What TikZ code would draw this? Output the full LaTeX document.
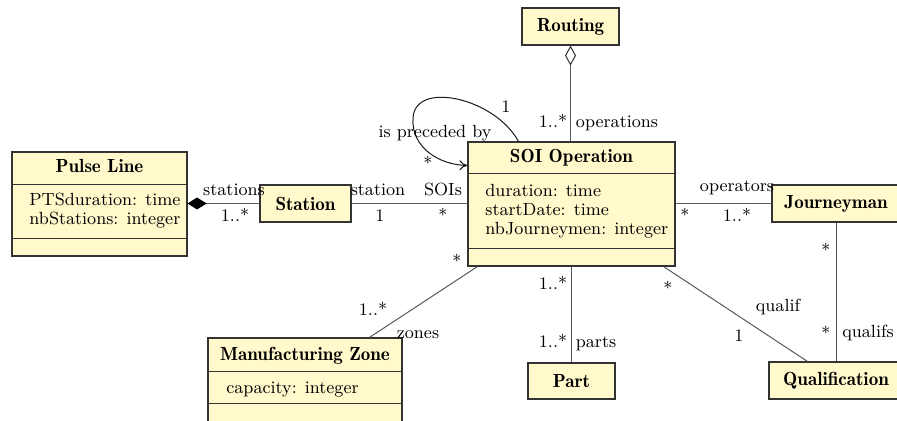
\documentclass[tikz,border=0pt]{standalone}
\usetikzlibrary{arrows.meta,calc}
\definecolor{classfill}{RGB}{255,249,204}
\newcommand{\hdrfont}{\fontsize{9.5}{11}\selectfont\fontseries{b}\selectfont}
\begin{document}
\begin{tikzpicture}[x=0.5pt,y=-0.5pt,
  every node/.style={font=\fontsize{8.8}{10}\selectfont, inner sep=0pt},
  classbox/.style={draw=black!80, fill=classfill, line width=0.55pt, rectangle, font=\hdrfont},
  divider/.style={draw=black!80, line width=0.55pt},
  hdr/.style={anchor=base, font=\hdrfont},
  attr/.style={anchor=base west},
  lbl/.style={anchor=base},
  assoc/.style={draw=black!65, line width=0.5pt}]
\useasboundingbox (0,0) rectangle (897,421);

% ---- classes ----
\node[classbox, minimum width=87.5pt, minimum height=52pt] (pl) at (99.5,204) {};
\draw[divider] ($(pl.north west)+(0,33)$) -- ($(pl.north east)+(0,33)$);
\draw[divider] ($(pl.south west)+(0,-18)$) -- ($(pl.south east)+(0,-18)$);
\node[hdr] (plh) at (99.5,173) {Pulse Line};
\node[attr] (pla1) at (29,206) {PTSduration: time};
\node[attr] (pla2) at (29,225) {nbStations: integer};

\node[classbox, minimum width=45.5pt, minimum height=18.5pt] (st) at (305.5,203.5) {Station};

\node[classbox, minimum width=103.5pt, minimum height=62pt] (soi) at (571.5,204) {};
\draw[divider] ($(soi.north west)+(0,32)$) -- ($(soi.north east)+(0,32)$);
\draw[divider] ($(soi.south west)+(0,-18)$) -- ($(soi.south east)+(0,-18)$);
\node[hdr] (soih) at (571.5,163) {SOI Operation};
\node[attr] (soia1) at (485,197) {duration: time};
\node[attr] (soia2) at (485,216) {startDate: time};
\node[attr] (soia3) at (485,235) {nbJourneymen: integer};

\node[classbox, minimum width=48.5pt, minimum height=18.5pt] (ro) at (570.5,26.5) {Routing};
\node[classbox, minimum width=64pt, minimum height=18.5pt] (jm) at (836,203.5) {Journeyman};
\node[classbox, minimum width=67pt, minimum height=18.5pt] (qu) at (836,380.5) {Qualification};
\node[classbox, minimum width=43.5pt, minimum height=18pt] (pt) at (571.5,381) {Part};

\node[classbox, minimum width=97pt, minimum height=46pt] (mz) at (305,384) {};
\draw[divider] ($(mz.north west)+(0,34)$) -- ($(mz.north east)+(0,34)$);
\draw[divider] ($(mz.north west)+(0,66)$) -- ($(mz.north east)+(0,66)$);
\node[hdr] (mzh) at (305,360) {Manufacturing Zone};
\node[attr] (mza1) at (226,393) {capacity: integer};

% ---- connectors ----
\draw[assoc, {Diamond[length=9.5pt,width=6pt,fill=black,color=black]}-] (st.west -| pl.east) -- (st.west);
\draw[assoc] (st.east) -- (st.east -| soi.west);
\draw[assoc, {Diamond[open,length=10pt,width=5.5pt,color=black!80]}-] (ro.south) -- (ro.south |- soi.north);
\draw[assoc] (jm.west -| soi.east) -- (jm.west);
\draw[assoc] (jm.south) -- (jm.south |- qu.north);
\draw[assoc] (pt.north |- soi.south) -- (pt.north);
\draw[assoc] ($(soi.south west)+(10,0)$) -- ($(mz.north west)+(162,0)$);
\draw[assoc] ($(soi.south east)+(-12,0)$) -- ($(qu.north west)+(39,0)$);
\draw[draw=black!90, line width=0.5pt, -{To[length=4pt,width=5pt]}]
  ($(soi.north west)+(51,0)$) .. controls (495,98) and (415,80) .. (413,118)
  .. controls (411,148) and (440,165) .. ($(soi.north west)+(0,24)$);

% ---- labels ----
\node[lbl] (l1) at (234,196) {stations};
\node[lbl] (l2) at (235,222) {1..*};
\node[lbl] (l3) at (378,196) {station};
\node[lbl] (l4) at (380,222) {1};
\node[lbl] (l5) at (443,196) {SOIs};
\node[lbl] (l6) at (443,222) {*};
\node[lbl] (l7) at (435,138) {is preceded by};
\node[lbl] (l8) at (506,113) {1};
\node[lbl] (l9) at (428,170) {*};
\node[lbl] (l10) at (553,128) {1..*};
\node[lbl] (l11) at (617,128) {operations};
\node[lbl] (l12) at (737,192) {operators};
\node[lbl] (l13) at (685,222) {*};
\node[lbl] (l14) at (737,222) {1..*};
\node[lbl] (l15) at (826,257) {*};
\node[lbl] (l16) at (826,340) {*};
\node[lbl] (l17) at (868,337) {qualifs};
\node[lbl] (l18) at (778,312) {qualif};
\node[lbl] (l19) at (739,342) {1};
\node[lbl] (l20) at (668,295) {*};
\node[lbl] (l21) at (457,268) {*};
\node[lbl] (l22) at (373,316) {1..*};
\node[lbl] (l23) at (418,339) {zones};
\node[lbl] (l24) at (553,290) {1..*};
\node[lbl] (l25) at (553,348) {1..*};
\node[lbl] (l26) at (596,348) {parts};
\end{tikzpicture}
\end{document}
